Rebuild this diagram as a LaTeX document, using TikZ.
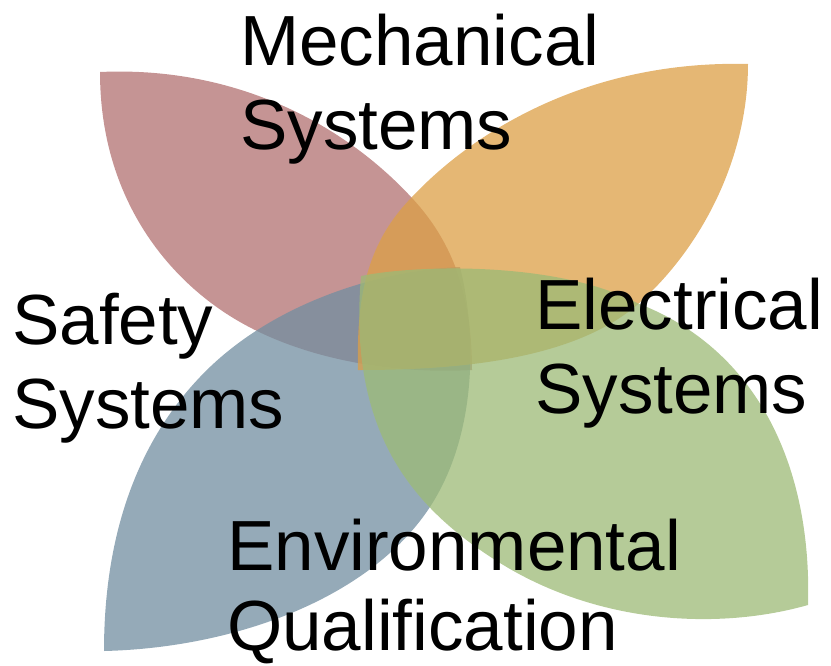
\documentclass[tikz,border=0pt]{standalone}
\usepackage{fontspec}
\setmainfont{Liberation Sans}
\usetikzlibrary{positioning}
\definecolor{petalred}{RGB}{178,112,112}
\definecolor{petalorange}{RGB}{220,159,70}
\definecolor{petalgreen}{RGB}{156,186,118}
\definecolor{petalblue}{RGB}{114,142,160}
\tikzstyle{petal}    = [fill opacity=0.75, draw=none]
\tikzstyle{areatext} = [anchor=base west, inner sep=0pt, align=left, font=\fontsize{71}{84}\selectfont]

\begin{document}
\begin{tikzpicture}[x=1pt, y=-1pt]
	\useasboundingbox (0,0) rectangle (831,665);
	% four leaves, each edge in two pieces from the outer corner to the inner corner
	\fill[petal, fill=petalred] (100,72)
		.. controls (230,66) and (340,120) .. (412,198)
		.. controls (450,239) and (472,290) .. (472,370)
		.. controls (400,374) and (310,362) .. (240,322)
		.. controls (170,282) and (100,200) .. (100,72) -- cycle;
	\fill[petal, fill=petalblue] (104,651)
		.. controls (104,530) and (140,440) .. (200,377)
		.. controls (270,303) and (380,270) .. (460,267)
		.. controls (476,330) and (480,440) .. (423,517)
		.. controls (360,602) and (230,648) .. (104,651) -- cycle;
	\fill[petal, fill=petalorange] (748,64)
		.. controls (748,160) and (700,250) .. (637,305)
		.. controls (570,362) and (450,370) .. (358,370)
		.. controls (356,290) and (370,240) .. (412,197)
		.. controls (475,130) and (590,60) .. (748,64) -- cycle;
	\fill[petal, fill=petalgreen] (808,605)
		.. controls (720,630) and (600,625) .. (500,563)
		.. controls (410,507) and (348,430) .. (361,276)
		.. controls (420,264) and (560,262) .. (637,303)
		.. controls (760,350) and (812,470) .. (808,605) -- cycle;
	% the four areas
	\node[areatext] (mech)   at (240,149) {Mechanical\\Systems};
	\node[areatext] (safety) at (12,428)  {Safety\\Systems};
	\node[areatext] (elec)   at (535,413) {Electrical\\Systems};
	\node[areatext, font=\fontsize{71}{80}\selectfont] (env) at (227,650) {Environmental\\Qualification};
\end{tikzpicture}
\end{document}
